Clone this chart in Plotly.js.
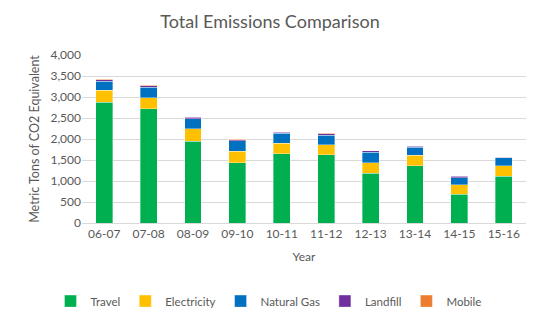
<!DOCTYPE html>
<html>
<head>
<meta charset="utf-8">
<script src="https://cdn.plot.ly/plotly-3.0.1.min.js"></script>
<style>html,body{margin:0;padding:0;background:#fff;}#chart{width:540px;height:327px;}</style>
</head>
<body>
<div id="chart"></div>
<script>
var years = ["06-07","07-08","08-09","09-10","10-11","11-12","12-13","13-14","14-15","15-16"];
var travel      = [2870, 2720, 1950, 1430, 1650, 1620, 1190, 1360, 680, 1110];
var electricity = [290, 265, 300, 280, 250, 240, 245, 250, 230, 250];
var naturalGas  = [220, 250, 235, 250, 240, 230, 255, 190, 165, 195];
var landfill    = [25, 35, 30, 20, 25, 40, 25, 25, 40, 5];
var mobile      = [15, 15, 15, 10, 10, 10, 10, 10, 15, 10];

var names = ["Travel","Electricity","Natural Gas","Landfill","Mobile"];
var series = [travel, electricity, naturalGas, landfill, mobile];
var colors = ["#00b050","#ffc000","#0070c0","#7030a0","#ed7d31"];

var traces = series.map(function(s, i){
  return {
    type: "bar", name: names[i], x: years, y: s,
    marker: {color: colors[i], line: {color: "rgba(255,255,255,0.5)", width: 0.7}},
    hoverinfo: "x+y+name"
  };
});

var font = "Lato, 'Open Sans', sans-serif";
var layout = {
  width: 540, height: 327,
  margin: {l: 82, r: 14, t: 55, b: 102},
  barmode: "stack",
  bargap: 0.62,
  paper_bgcolor: "#fff", plot_bgcolor: "#fff",
  font: {family: font, color: "#595959", size: 12},
  title: {text: "Total Emissions Comparison", x: 0.5, xanchor: "center", y: 0.935, yanchor: "middle",
          font: {family: font, size: 18, color: "#595959"}},
  xaxis: {
    type: "category",
    title: {text: "Year", font: {size: 12, color: "#595959"}, standoff: 12},
    tickfont: {size: 12, color: "#595959"},
    showline: true, linecolor: "#d9d9d9", linewidth: 1,
    ticks: "", fixedrange: true
  },
  yaxis: {
    title: {text: "Metric Tons of CO2 Equivalent", font: {size: 12.5, color: "#595959"}, standoff: 8},
    range: [0, 4000], dtick: 500, tickformat: ",d",
    tickfont: {size: 12, color: "#595959"},
    gridcolor: "#d9d9d9", gridwidth: 1,
    zeroline: true, zerolinecolor: "#d9d9d9",
    ticks: "", ticklen: 0, fixedrange: true
  },
  legend: {orientation: "h", x: 0.42, xanchor: "center", y: -0.465, yanchor: "middle",
           font: {size: 11.5, color: "#595959"}, traceorder: "normal", itemwidth: 30},
  showlegend: true
};

Plotly.newPlot("chart", traces, layout, {displayModeBar: false, staticPlot: true});
</script>
</body>
</html>
